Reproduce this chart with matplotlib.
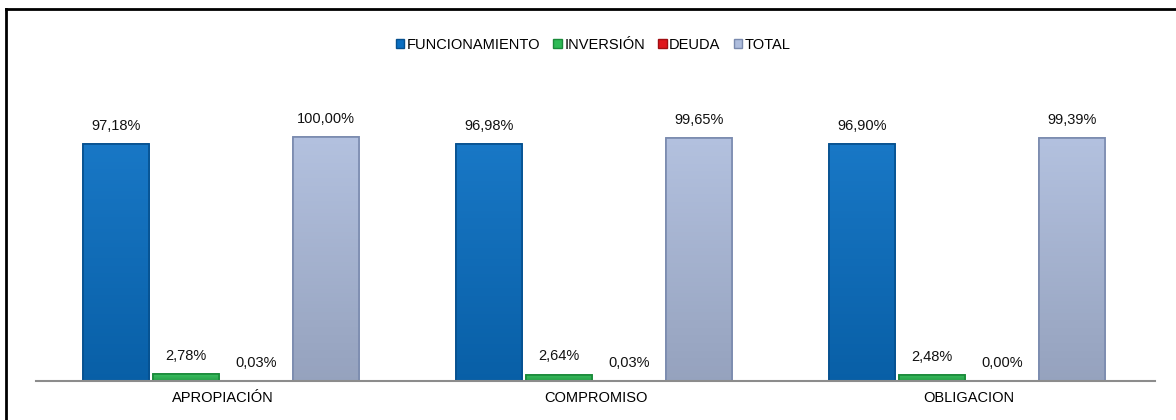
import numpy as np
import matplotlib.pyplot as plt
from matplotlib.lines import Line2D
from matplotlib.colors import to_rgb

plt.rcParams['font.family'] = ['Liberation Sans', 'DejaVu Sans']

# data
categories = ["APROPIACIÓN", "COMPROMISO", "OBLIGACION"]
series = ["FUNCIONAMIENTO", "INVERSIÓN", "DEUDA", "TOTAL"]
funcionamiento = [97.18, 96.98, 96.90]
inversion = [2.78, 2.64, 2.48]
deuda = [0.03, 0.03, 0.00]
total = [100.00, 99.65, 99.39]

values = [funcionamiento, inversion, deuda, total]
colors = ["#0A6FC2", "#2DBA55", "#E0151B", "#AEBDDD"]
edges = ["#06508E", "#1A8A3A", "#A00E12", "#7A8AAE"]

fig = plt.figure(figsize=(11.76, 4.2), dpi=100)
ax = fig.add_axes([36/1176, 39/420, 1119/1176, 293/420])

x = np.arange(len(categories))
w = 0.178
offs = np.array([-1.5, -0.5, 0.5, 1.5]) * 0.188 - 0.004


def shade(col, n=64):
    # soft vertical gradient, a bit darker near the base
    c = np.array(to_rgb(col))
    t = np.linspace(0, 1, n)[:, None]
    dark = c * 0.86
    light = np.clip(c + (1 - c) * 0.06, 0, 1)
    return (dark * (1 - t) + light * t)[:, None, :]


for i, (name, vals) in enumerate(zip(series, values)):
    bars = ax.bar(x + offs[i], vals, w, color=colors[i], edgecolor=edges[i],
                  linewidth=1.2, label=name, zorder=2)
    for b, v in zip(bars, vals):
        if b.get_height() > 0:
            x0, h = b.get_x(), b.get_height()
            im = ax.imshow(shade(colors[i]), extent=[x0, x0 + w, 0, h],
                           origin="lower", aspect="auto", zorder=2.1)
            im.set_clip_path(b)
            ax.bar(x0 + w/2, h, w, facecolor="none", edgecolor=edges[i],
                   linewidth=1.2, zorder=2.2)
        ax.annotate(f"{v:.2f}%".replace(".", ","),
                    (b.get_x() + b.get_width()/2, b.get_height()),
                    xytext=(0, 8), textcoords="offset points",
                    ha="center", va="bottom", fontsize=10.5, color="#111111")

ax.set_xlim(-0.5, 2.5)
ax.set_ylim(0, 120)
ax.set_xticks(x)
ax.set_xticklabels(categories, fontsize=10.5)
ax.tick_params(axis="x", length=0, pad=7)
ax.set_yticks([])
for s in ["top", "right", "left"]:
    ax.spines[s].set_visible(False)
ax.spines["bottom"].set_color("#8C8C8C")
ax.spines["bottom"].set_linewidth(1.5)
ax.spines["bottom"].set_zorder(3)

handles = [plt.Rectangle((0, 0), 1, 1, facecolor=c, edgecolor=e) for c, e in zip(colors, edges)]
fig.legend(handles, series, loc="center", bbox_to_anchor=(593/1176, 1 - 45/420),
           ncol=4, frameon=False, fontsize=10.5, handlelength=0.6, handleheight=0.6,
           handletextpad=0.15, columnspacing=0.9)

# outer frame
fig.add_artist(Line2D([6/1176, 6/1176], [0, 1 - 9/420], color="black", lw=2))
fig.add_artist(Line2D([6/1176, 1], [1 - 9/420, 1 - 9/420], color="black", lw=2))

fig.savefig("out.png", dpi=100)
